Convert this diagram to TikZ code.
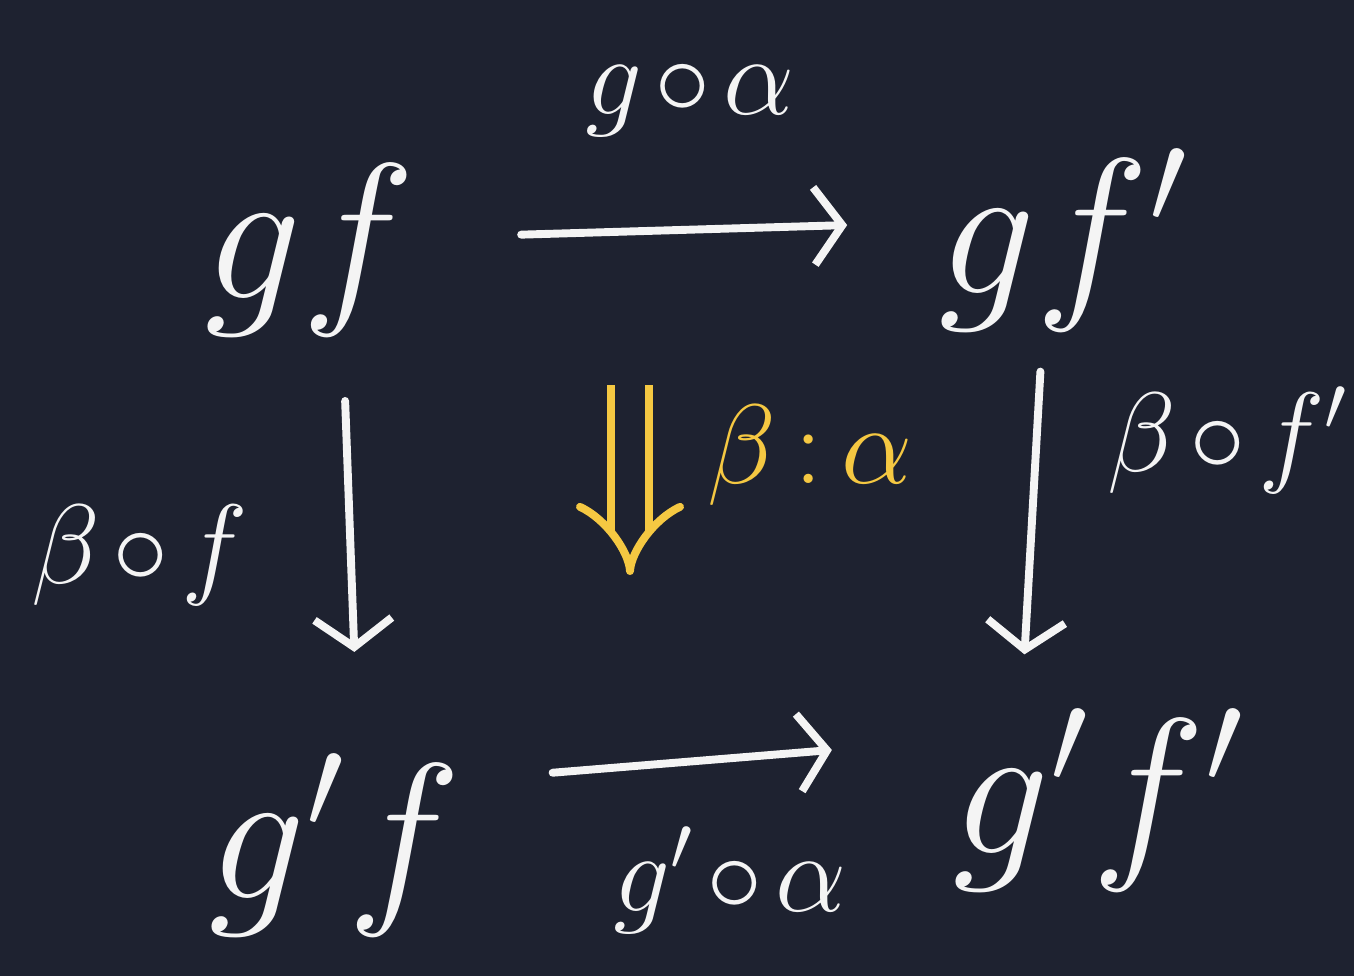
\documentclass[tikz,border=0pt]{standalone}
\usepackage{amsmath,amssymb}
\usepackage{xcolor}
\usepackage{tikz}
\usetikzlibrary{arrows.meta}
\definecolor{boarddark}{HTML}{1E2230}
\definecolor{chalkwhite}{HTML}{F4F4F4}
\definecolor{chalkyellow}{HTML}{F5C842}

\begin{document}
\begin{tikzpicture}[x=0.02cm, y=-0.02cm,
    obj/.style={text=chalkwhite, font=\huge, scale=5.3, inner sep=0pt},
    lbl/.style={text=chalkwhite, font=\huge, scale=3.1, inner sep=0pt},
    arr/.style={-{Straight Barb[length=16pt, width=44pt]}, chalkwhite, line width=4.5pt, line cap=round},
    cell/.style={-{Implies[length=16pt, width=56pt]}, chalkyellow, double=boarddark, double distance=17pt, line width=4.5pt}
]
\fill[boarddark] (0,0) rectangle (1354,976);
\useasboundingbox (0,0) rectangle (1354,976);

\node[obj] (gf) at (310,250) {$gf$};
\node[obj] (gfp) at (1065,240) {$gf'$};
\node[obj] (gpf) at (335,845) {$g'f$};
\node[obj] (gpfp) at (1100,800) {$g'f'$};

\node[lbl] (topLbl) at (690,100) {$g\mkern2mu{\circ}\mkern2mu\alpha$};
\node[lbl] (botLbl) at (730,880) {$g'\mkern2mu{\circ}\mkern2mu\alpha$};
\node[lbl] (leftLbl) at (140,555) {$\beta\mkern2mu{\circ}\mkern2mu f$};
\node[lbl, anchor=east] (rightLbl) at (1350,440) {$\beta\mkern2mu{\circ}\mkern2mu f'$};
\node[lbl, text=chalkyellow] (cellLbl) at (810,455) {$\beta\,{:}\,\alpha$};

\draw[arr, shorten <=59pt, shorten >=51pt] ([yshift=7pt]gf.east) -- ([yshift=10pt]gfp.west);
\draw[arr, shorten <=51pt, shorten >=68pt] ([yshift=37pt]gpf.east) -- ([yshift=34pt]gpfp.west);
\draw[arr] ([xshift=20pt, yshift=-36pt]gf.south) -- ([xshift=11pt, yshift=57pt]gpf.north);
\draw[arr] ([xshift=-14pt, yshift=-22pt]gfp.south) -- ([xshift=-43pt, yshift=30pt]gpfp.north);

\coordinate (cellTop) at (630,385);
\coordinate (cellBot) at (630,575);
\draw[cell] (cellTop) -- (cellBot);
\end{tikzpicture}
\end{document}
